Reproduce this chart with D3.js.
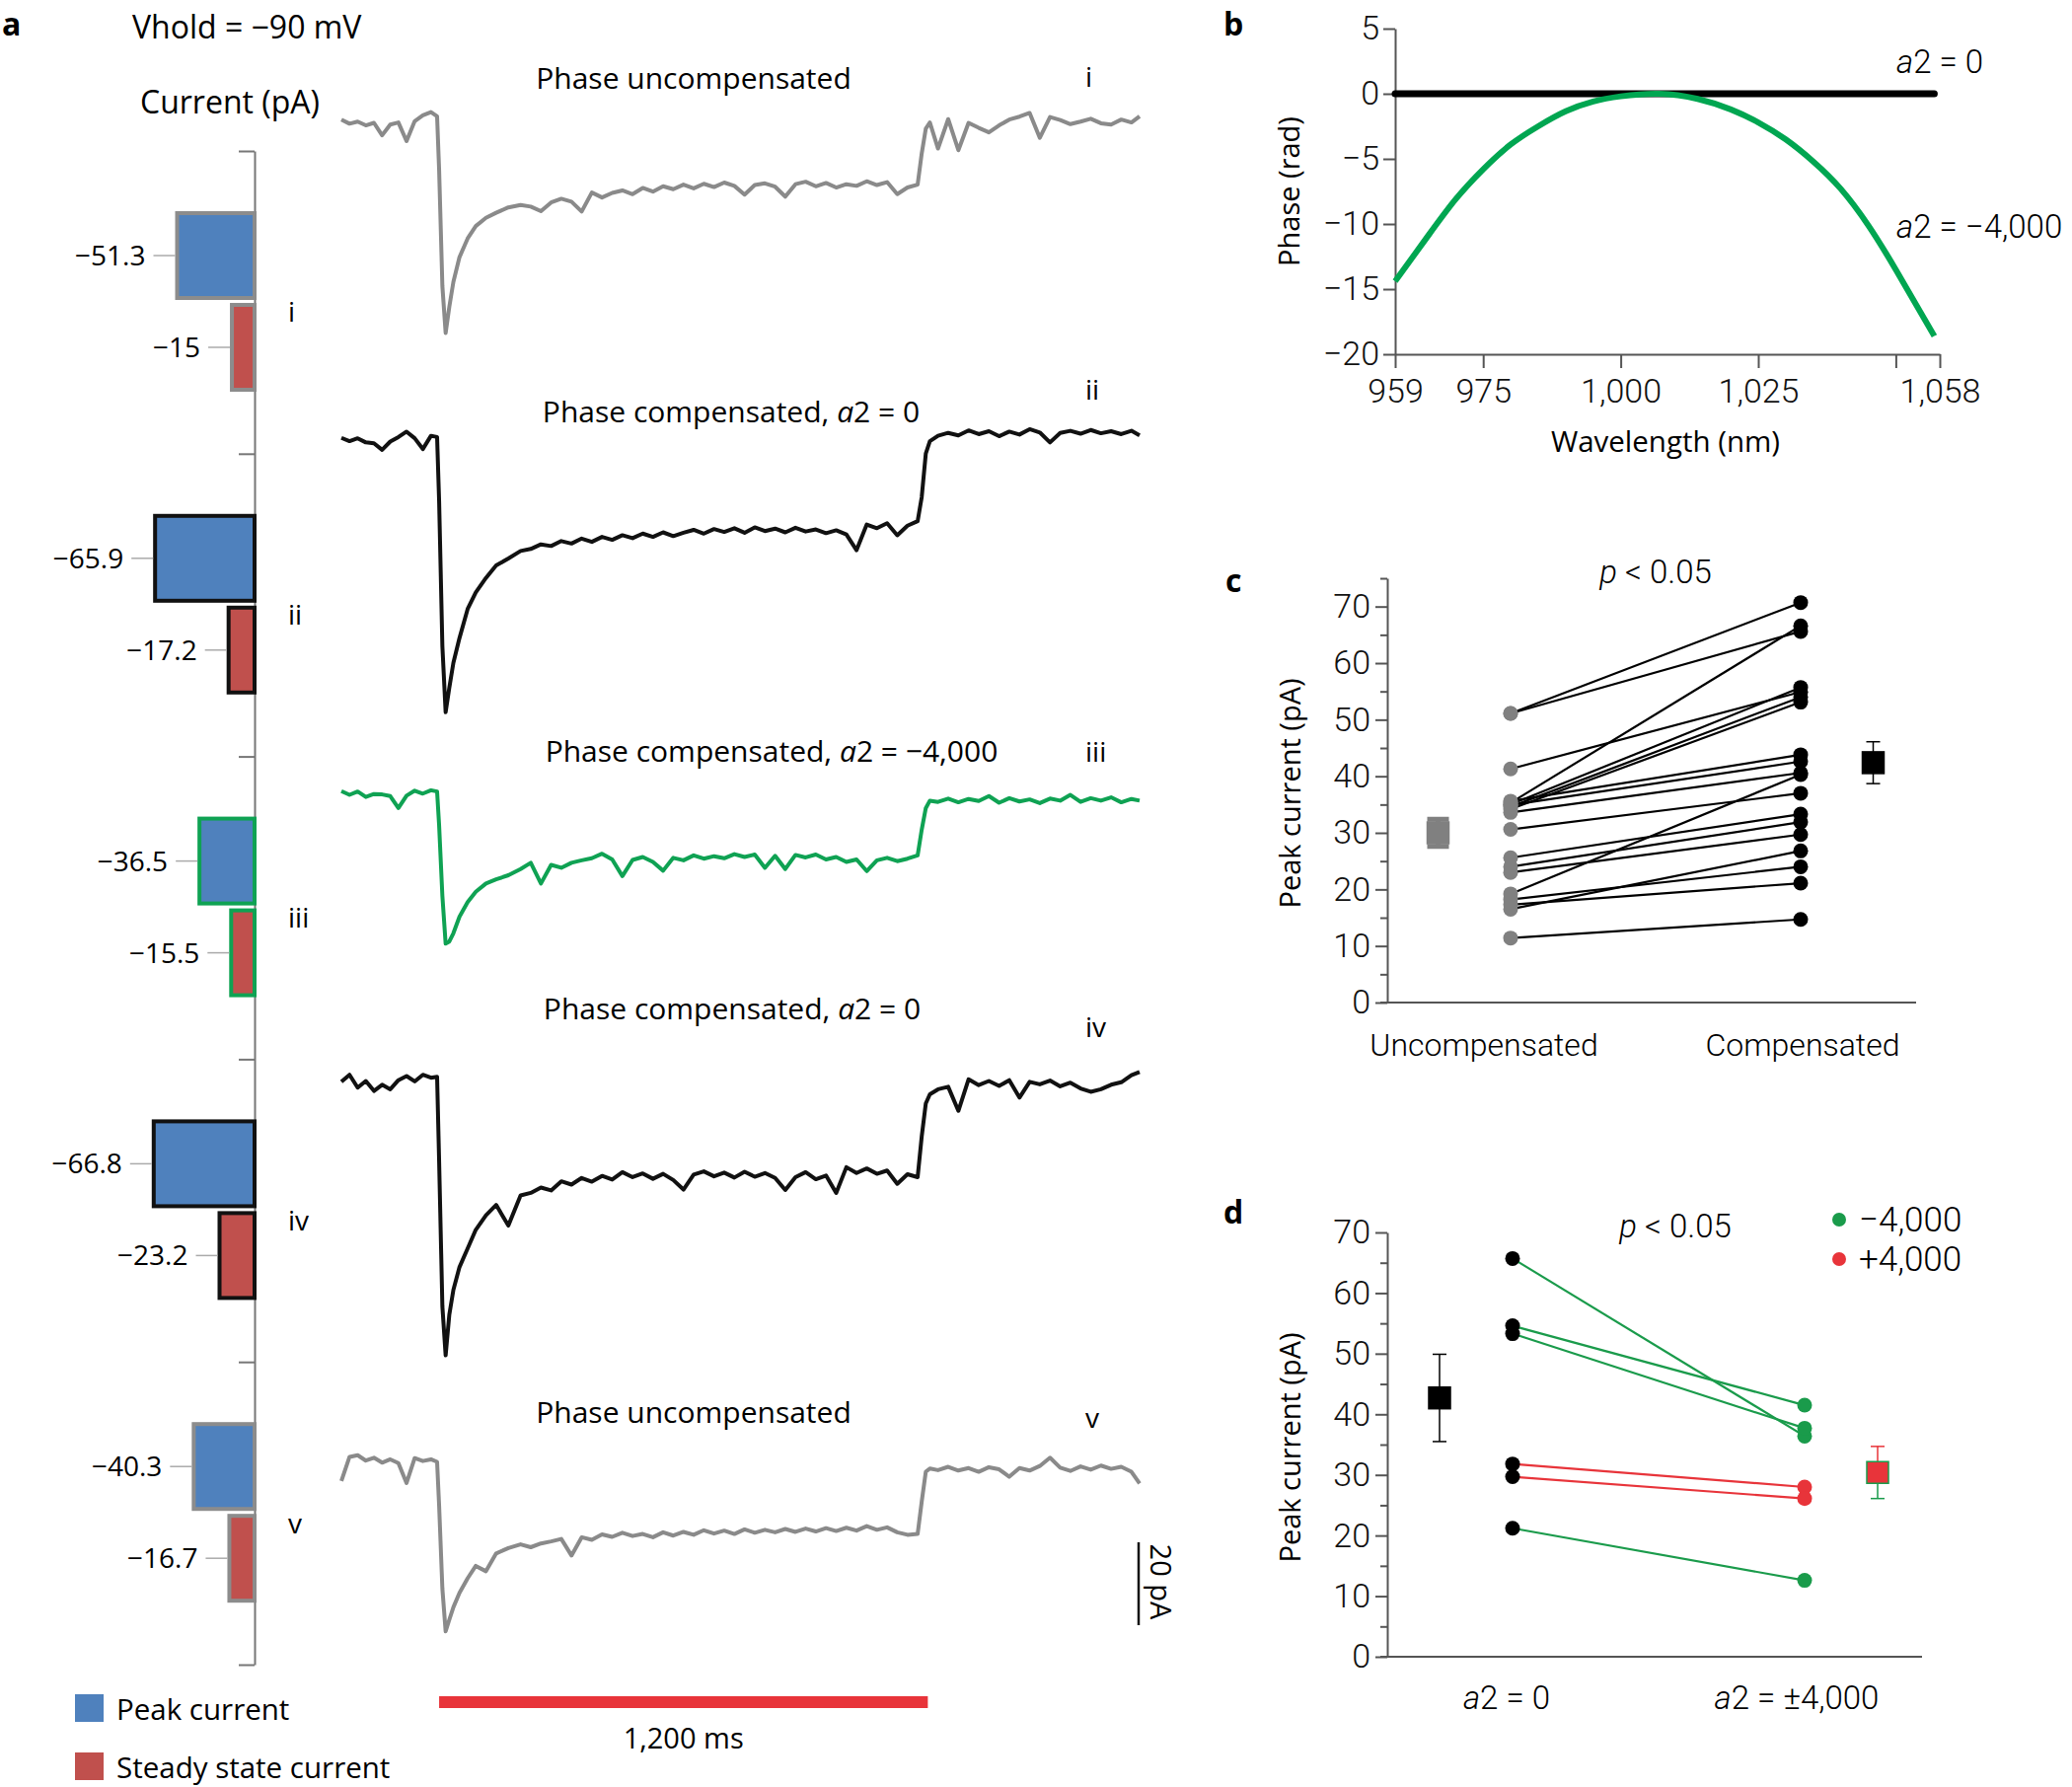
<!DOCTYPE html>
<html>
<head>
<meta charset="utf-8">
<script src="https://cdn.jsdelivr.net/npm/d3@7/dist/d3.min.js"></script>
<style>
  body { margin: 0; background: #fff; }
  svg { display: block; }
</style>
</head>
<body>
<svg id="fig" width="2100" height="1811"></svg>
<script>
// ---------- data ----------
// panel a, bar chart (pA)
const groups = ['i', 'ii', 'iii', 'iv', 'v']
const peakCurrent = [-51.3, -65.9, -36.5, -66.8, -40.3]
const steadyCurrent = [-15, -17.2, -15.5, -23.2, -16.7]
const traceTitles = ['Phase uncompensated', 'Phase compensated, a2 = 0', 'Phase compensated, a2 = −4,000',
  'Phase compensated, a2 = 0', 'Phase uncompensated']

// panel a, current traces (ms, pA relative to holding baseline)
const traceTimes = [-240, -220, -200, -180, -160, -140, -120, -100, -80, -60, -40, -20, -5,
  0, 8, 16, 25, 35, 50, 70, 90, 115, 140, 170, 200,
  225, 250, 275, 300, 325, 350, 375, 400, 425, 450, 475, 500, 525, 550, 575, 600, 625, 650, 675, 700,
  725, 750, 775, 800, 825, 850, 875, 900, 925, 950, 975, 1000, 1025, 1050, 1075, 1100, 1125, 1150, 1175,
  1185, 1195, 1205,
  1225, 1250, 1275, 1300, 1325, 1350, 1375, 1400, 1425, 1450, 1475, 1500, 1525, 1550, 1575, 1600, 1625,
  1650, 1675, 1700, 1720]
const traceI = [0.2, -0.8, -0.3, -1.2, -0.6, -3.6, -1.0, -0.5, -5.0, -0.2, 1.2, 2.0, 1.0,
  -12, -40, -51.3, -45, -39, -33, -28.5, -25.5, -23.5, -22.3, -21, -20.4,
  -20.8, -21.9, -19.8, -18.9, -19.6, -22.0, -17.4, -18.6, -17.5, -16.9, -17.8, -16.3, -17.2, -15.9, -16.6,
  -15.5, -16.4, -15.3, -16.1, -15.0, -15.8, -17.9, -15.6, -15.2, -16.0, -18.4, -15.4, -14.8, -15.9, -15.1,
  -16.2, -15.4, -15.8, -14.7, -15.6, -14.9, -17.8, -16.2, -15.5,
  -8, -2, -0.5,
  -6.8, 0.3, -7.2, -0.6, -1.8, -2.9, -1.2, 0.2, 0.9, 1.8, -4.2, 0.8, 0.1, -0.9, -0.3, 0.4, -0.7, -1.0, 0.2, -0.5, 1.0]
const traceII = [0.3, -0.5, 0.2, -0.8, -1.0, -2.6, -0.6, 0.5, 1.8, 0.2, -2.4, 0.8, 0.5,
  -15, -50, -65.9, -60, -54, -48, -41, -37, -33.5, -30.5, -28.8, -27.0,
  -26.5, -25.4, -25.8, -24.6, -25.2, -24.0, -24.8, -23.6, -24.3, -23.2, -23.9, -22.8, -23.6, -22.5, -23.4,
  -22.6, -21.9, -22.8, -21.7, -22.4, -21.5, -22.6, -21.3, -22.2, -21.6, -22.5, -21.4, -22.3, -21.8, -22.7,
  -22.0, -23.0, -26.8, -20.6, -21.5, -20.3, -23.2, -20.9, -19.8,
  -14, -3.5, -0.5,
  0.8, 1.5, 0.9, 2.1, 1.2, 1.9, 0.7, 1.8, 1.1, 2.4, 1.6, -0.8, 1.5, 2.0, 1.3, 2.2, 1.4, 1.9, 1.2, 2.0, 0.9]
const traceIII = [0.3, -0.6, 0.2, -1.1, -0.4, -0.5, -0.9, -3.8, -0.8, 0.4, -0.3, 0.5, 0.2,
  -8, -25, -36.5, -36.0, -34.0, -30.0, -26.5, -24.0, -22.0, -21.0, -20.0, -18.5,
  -17.0, -22.0, -17.5, -18.2, -17.0, -16.4, -15.9, -14.8, -16.2, -20.2, -16.3, -15.6, -16.8, -18.9, -15.8,
  -16.4, -15.2, -16.0, -15.4, -15.9, -14.9, -15.6, -15.0, -18.2, -15.3, -18.5, -15.1, -15.7, -15.0, -16.2,
  -15.6, -16.8, -16.2, -19.0, -16.4, -15.8, -16.6, -16.0, -15.2,
  -9, -3.8, -2.0,
  -2.3, -1.5, -2.4, -1.6, -2.1, -0.9, -2.5, -1.4, -2.2, -1.7, -2.6, -1.5, -2.0, -0.6, -2.3, -1.4, -2.0, -1.2, -2.4, -1.6, -2.0]
const traceIV = [-0.8, 0.9, -2.2, -0.6, -3.0, -1.5, -2.6, -0.4, 0.6, -0.7, 0.9, 0.2, 0.4,
  -20, -55, -66.8, -57, -51, -45.5, -41, -36.5, -33, -30.5, -35.5, -28.2,
  -27.6, -26.3, -27.0, -24.8, -25.6, -24.0, -24.9, -23.5, -24.4, -22.6, -23.8, -22.9, -24.2, -23.0, -24.5,
  -26.8, -23.2, -22.4, -23.6, -22.7, -23.9, -22.5, -23.7, -22.8, -24.0, -26.9, -23.8, -22.6, -24.3, -23.4,
  -27.6, -21.4, -22.8, -21.7, -23.0, -22.2, -25.4, -23.1, -23.8,
  -14, -6, -3.8,
  -2.6, -2.0, -7.8, -0.2, -1.6, -0.6, -1.8, -0.4, -4.6, -0.8, -1.4, -0.5, -1.9, -1.0, -2.4, -3.2, -2.6, -1.5, -0.9, 0.8, 1.6]
const traceV = [-4.0, 1.8, 2.2, 0.9, 1.6, 0.4, 1.2, 0.3, -4.5, 1.5, 0.8, 1.2, 0.6,
  -10, -30, -40.3, -37.5, -34.5, -31, -27.5, -24.5, -25.8, -21.5, -20.2, -19.3,
  -20.0, -19.1, -18.6, -18.0, -22.0, -17.6, -18.2, -16.9, -17.5, -16.5, -17.3, -16.8, -17.6, -16.4, -17.2,
  -16.3, -17.0, -15.9, -16.7, -16.0, -16.8, -15.7, -16.5, -15.8, -16.4, -15.6, -16.3, -15.5, -16.2, -15.4,
  -16.1, -15.3, -16.0, -14.9, -15.8, -15.2, -16.4, -17.0, -16.8,
  -9, -1.8, -1.0,
  -1.4, -0.6, -1.5, -0.9, -1.8, -0.7, -1.2, -3.0, -0.9, -1.5, -0.4, 1.6, -0.8, -1.6, -0.5, -1.3, -0.3, -1.1, -0.6, -1.8, -4.6]

// panel b, phase (rad) vs wavelength (nm)
const flatWavelength = [959, 1057]
const flatPhase = [0, 0]
const wavelengthNm = [959, 965, 970, 975, 980, 985, 990, 995, 1000, 1007, 1014, 1020, 1025, 1030, 1035, 1040, 1045, 1050, 1057]
const phaseA2Neg = [-14.4, -10.9, -8.1, -5.8, -3.9, -2.5, -1.35, -0.6, -0.2, 0, -0.4, -1.2, -2.2, -3.5, -5.2, -7.3, -10.1, -13.5, -18.6]
const phaseYTicks = [5, 0, -5, -10, -15, -20]
const wavelengthTicks = [959, 975, 1000, 1025, 1050, 1058]

// panel c, paired peak currents (pA)
const uncompensated = [51.1, 51.1, 41.3, 35.3, 35.0, 34.6, 34.2, 35.6, 34.9, 33.6, 30.6, 25.6, 24.0, 23.0, 19.2, 18.2, 17.3, 16.5, 11.4]
const compensated = [70.7, 65.6, 54.9, 66.6, 55.7, 54.0, 53.1, 43.8, 42.6, 40.6, 37.0, 33.3, 31.9, 29.7, 40.3, 24.0, 21.1, 26.8, 14.7]
const meanC = [30.0, 42.4]
const semC = [2.4, 3.7]

// panel d, paired peak currents (pA)
const a2Zero = [65.7, 54.6, 53.3, 31.8, 29.7, 21.2]
const a2PlusMinus = [36.4, 41.5, 37.7, 28.0, 26.1, 12.6]
const a2Sign = ['−4,000', '−4,000', '−4,000', '+4,000', '+4,000', '−4,000']
const meanD = [42.7, 30.4]
const semD = [7.2, 4.3]

// ---------- drawing ----------
const svg = d3.select('#fig')
const fontA = "'Open Sans', 'Noto Sans', sans-serif"
const fontB = "Roboto, 'Open Sans', sans-serif"
const minus = v => String(v).replace('-', '−')

const GREEN = '#0fa253'
const RED = '#e8343a'
const GREY = '#8a8a8a'

// panel letters
const letters = [['a', 2, 36], ['b', 1240, 36], ['c', 1242, 600], ['d', 1240, 1240]]
letters.forEach(([t, x, y]) => {
  svg.append('text').attr('x', x).attr('y', y).text(t)
    .style('font-family', fontA).style('font-weight', 700).style('font-size', '32px')
})

// ===== Panel a =====
svg.append('text').attr('x', 134).attr('y', 39).text('Vhold = −90 mV')
  .style('font-family', fontA).style('font-size', '32px')
svg.append('text').attr('x', 142).attr('y', 115).text('Current (pA)')
  .style('font-family', fontA).style('font-size', '32px')

const yGroup = d3.scaleBand().domain(groups).range([153, 1687])
const yKind = d3.scaleBand().domain(['peak', 'steady']).range([63, 242]).paddingInner(0.075)
const xBar = d3.scaleLinear().domain([0, 70]).range([258, 258 - 70 * 1.53])
const idxScale = d3.scaleLinear().domain([0, groups.length]).range([153, 1687])
const outline = ['#8c8c8c', '#111', GREEN, '#111', '#8c8c8c']

svg.append('g')
  .attr('transform', 'translate(258,0)')
  .call(d3.axisLeft(idxScale).tickValues(d3.range(groups.length + 1)).tickFormat('').tickSizeInner(16).tickSizeOuter(0))
  .call(g => g.selectAll('line,path').attr('stroke', '#777').attr('stroke-width', 2))

const barRows = []
groups.forEach((g, i) => {
  barRows.push({ g, i, kind: 'peak', v: peakCurrent[i] })
  barRows.push({ g, i, kind: 'steady', v: steadyCurrent[i] })
})

const barG = svg.append('g')
barG.selectAll('rect')
  .data(barRows)
  .join('rect')
  .attr('x', d => xBar(-d.v))
  .attr('y', d => yGroup(d.g) + yKind(d.kind))
  .attr('width', d => 258 - xBar(-d.v))
  .attr('height', yKind.bandwidth())
  .attr('fill', d => d.kind === 'peak' ? '#4f81bd' : '#c0504d')
  .attr('stroke', d => outline[d.i])
  .attr('stroke-width', 4)

barG.selectAll('line.leader')
  .data(barRows)
  .join('line')
  .attr('class', 'leader')
  .attr('x1', d => xBar(-d.v) - 24)
  .attr('x2', d => xBar(-d.v) - 2)
  .attr('y1', d => yGroup(d.g) + yKind(d.kind) + yKind.bandwidth() / 2)
  .attr('y2', d => yGroup(d.g) + yKind(d.kind) + yKind.bandwidth() / 2)
  .attr('stroke', '#aaa')
  .attr('stroke-width', 1.5)

barG.selectAll('text.val')
  .data(barRows)
  .join('text')
  .attr('class', 'val')
  .attr('x', d => xBar(-d.v) - 32)
  .attr('y', d => yGroup(d.g) + yKind(d.kind) + yKind.bandwidth() / 2 + 10)
  .attr('text-anchor', 'end')
  .style('font-family', fontA).style('font-size', '28px')
  .text(d => minus(d.v))

barG.selectAll('text.num')
  .data(groups)
  .join('text')
  .attr('class', 'num')
  .attr('x', 292)
  .attr('y', d => yGroup(d) + yGroup.bandwidth() / 2 + 20)
  .style('font-family', fontA).style('font-size', '28px')
  .text(d => d)

// legend
const legendA = [['Peak current', '#4f81bd', 1717], ['Steady state current', '#c0504d', 1776]]
legendA.forEach(([t, c, y]) => {
  svg.append('rect').attr('x', 76).attr('y', y).attr('width', 29).attr('height', 28).attr('fill', c)
  svg.append('text').attr('x', 118).attr('y', y + 26).text(t)
    .style('font-family', fontA).style('font-size', '29.5px')
})

// traces
const xTime = d3.scaleLinear().domain([-240, 1720]).range([346, 1155])
const yCur = d3.scaleLinear().domain([0, -20]).range([0, 84])
const traces = [traceI, traceII, traceIII, traceIV, traceV]
const traceColor = [GREY, '#111', GREEN, '#111', GREY]
const traceBase = [122, 445, 803, 1093, 1484]
const titlePos = [[703, 90], [741, 428], [782, 772], [742, 1033], [703, 1442]]
const numPos = [[1100, 88], [1100, 405], [1100, 772], [1100, 1051], [1100, 1447]]

const line = d3.line().x((d, j) => xTime(traceTimes[j])).y(d => yCur(d))
traces.forEach((tr, i) => {
  svg.append('path')
    .datum(tr)
    .attr('transform', `translate(0,${traceBase[i]})`)
    .attr('d', line)
    .attr('fill', 'none')
    .attr('stroke', traceColor[i])
    .attr('stroke-width', 4)
    .attr('stroke-linejoin', 'round')

  const t = svg.append('text').attr('x', titlePos[i][0]).attr('y', titlePos[i][1])
    .attr('text-anchor', 'middle').style('font-family', fontA).style('font-size', '30px')
  const parts = traceTitles[i].split('a2')
  if (parts.length > 1) {
    t.append('tspan').text(parts[0])
    t.append('tspan').style('font-style', 'italic').text('a')
    t.append('tspan').text('2' + parts[1])
  } else {
    t.text(traceTitles[i])
  }
  svg.append('text').attr('x', numPos[i][0]).attr('y', numPos[i][1])
    .style('font-family', fontA).style('font-size', '28px').text(groups[i])
})

// scale bars
svg.append('line')
  .attr('x1', 1154).attr('x2', 1154)
  .attr('y1', 1563).attr('y2', 1563 + yCur(-20))
  .attr('stroke', '#111').attr('stroke-width', 2.5)
svg.append('text').attr('transform', 'translate(1166,1603) rotate(90)')
  .attr('text-anchor', 'middle').style('font-family', fontA).style('font-size', '29px').text('20 pA')
svg.append('rect')
  .attr('x', xTime(0)).attr('y', 1719)
  .attr('width', xTime(1200) - xTime(0)).attr('height', 12)
  .attr('fill', RED)
svg.append('text').attr('x', (xTime(0) + xTime(1200)) / 2).attr('y', 1772)
  .attr('text-anchor', 'middle').style('font-family', fontA).style('font-size', '29px').text('1,200 ms')

// ===== Panel b =====
const xW = d3.scaleLinear().domain([959, 1058]).range([1414, 1966])
const yP = d3.scaleLinear().domain([-20, 5]).range([359, 29])

const styleAxis = g => {
  g.selectAll('line,path').attr('stroke', '#555').attr('stroke-width', 2)
  g.selectAll('text').style('font-family', fontB).style('font-weight', 300).style('font-size', '34px').attr('fill', '#111')
}

svg.append('g').attr('transform', 'translate(1414,0)')
  .call(d3.axisLeft(yP).tickValues(phaseYTicks).tickFormat(minus).tickSizeInner(12).tickSizeOuter(0).tickPadding(4))
  .call(styleAxis)
svg.append('g').attr('transform', 'translate(0,359)')
  .call(d3.axisBottom(xW).tickValues(wavelengthTicks)
    .tickFormat(d => d === 1050 ? '' : d3.format(',')(d)).tickSizeInner(14).tickSizeOuter(0).tickPadding(11))
  .call(styleAxis)

svg.append('path')
  .datum(flatWavelength.map((w, j) => [w, flatPhase[j]]))
  .attr('d', d3.line().x(d => xW(d[0])).y(d => yP(d[1])))
  .attr('stroke', '#000').attr('stroke-width', 7).attr('stroke-linecap', 'round').attr('fill', 'none')
svg.append('path')
  .datum(wavelengthNm.map((w, j) => [w, phaseA2Neg[j]]))
  .attr('d', d3.line().curve(d3.curveNatural).x(d => xW(d[0])).y(d => yP(d[1])))
  .attr('stroke', '#00a651').attr('stroke-width', 6).attr('fill', 'none')

const italicLabel = (x, y, pre, rest, anchor, size) => {
  const t = svg.append('text').attr('x', x).attr('y', y).attr('text-anchor', anchor || 'start')
    .style('font-family', fontB).style('font-weight', 300).style('font-size', (size || 33) + 'px')
  t.append('tspan').style('font-style', 'italic').text(pre)
  t.append('tspan').text(rest)
  return t
}
italicLabel(1922, 74, 'a', '2 = 0')
italicLabel(1922, 241, 'a', '2 = −4,000')

svg.append('text').attr('transform', 'translate(1317,194) rotate(-90)').attr('text-anchor', 'middle')
  .style('font-family', fontA).style('font-size', '29px').text('Phase (rad)')
svg.append('text').attr('x', 1688).attr('y', 458).attr('text-anchor', 'middle')
  .style('font-family', fontA).style('font-size', '29.5px').text('Wavelength (nm)')

// ===== Panels c and d (paired plots) =====
function pairedPanel(opt) {
  const y = d3.scaleLinear().domain([0, opt.yMax]).range([opt.y0, opt.y0 - opt.yMax * opt.pxPerUnit])
  const x = d3.scaleLinear().domain([0, 1]).range(opt.xRange)

  svg.append('g').attr('transform', 'translate(1406,0)')
    .call(d3.axisLeft(y).tickValues(d3.range(0, 71, 10)).tickSizeInner(12).tickSizeOuter(0).tickPadding(5))
    .call(styleAxis)
  svg.append('g').attr('transform', 'translate(1406,0)')
    .call(d3.axisLeft(y).tickValues(d3.range(5, opt.yMax + 1, 10)).tickFormat('').tickSizeInner(7).tickSizeOuter(0))
    .call(g => g.select('.domain').remove())
    .call(g => g.selectAll('line').attr('stroke', '#555').attr('stroke-width', 2))
  svg.append('line').attr('x1', 1399).attr('x2', opt.xEnd).attr('y1', opt.y0).attr('y2', opt.y0)
    .attr('stroke', '#555').attr('stroke-width', 2)

  // paired lines
  svg.append('g').selectAll('line')
    .data(opt.left.map((v, j) => ({ a: v, b: opt.right[j], j })))
    .join('line')
    .attr('x1', x(0)).attr('x2', x(1))
    .attr('y1', d => y(d.a)).attr('y2', d => y(d.b))
    .attr('stroke', d => opt.lineColor(d.j)).attr('stroke-width', 2.2)

  svg.append('g').selectAll('circle')
    .data(opt.left).join('circle')
    .attr('cx', x(0)).attr('cy', d => y(d)).attr('r', 7.5).attr('fill', opt.leftColor)
  svg.append('g').selectAll('circle')
    .data(opt.right).join('circle')
    .attr('cx', x(1)).attr('cy', d => y(d)).attr('r', 7.5).attr('fill', (d, j) => opt.rightColor(j))

  // means with sem
  opt.means.forEach((m, k) => {
    const cx = x(k === 0 ? -0.25 : 1.25)
    const s = opt.sems[k]
    const g = svg.append('g')
    const colTop = opt.errColor[k][0], colBot = opt.errColor[k][1]
    g.append('line').attr('x1', cx).attr('x2', cx).attr('y1', y(m)).attr('y2', y(m + s)).attr('stroke', colTop).attr('stroke-width', opt.errWidth[k])
    g.append('line').attr('x1', cx).attr('x2', cx).attr('y1', y(m)).attr('y2', y(m - s)).attr('stroke', colBot).attr('stroke-width', opt.errWidth[k])
    g.append('line').attr('x1', cx - opt.cap[k]).attr('x2', cx + opt.cap[k]).attr('y1', y(m + s)).attr('y2', y(m + s)).attr('stroke', colTop).attr('stroke-width', opt.errWidth[k])
    g.append('line').attr('x1', cx - opt.cap[k]).attr('x2', cx + opt.cap[k]).attr('y1', y(m - s)).attr('y2', y(m - s)).attr('stroke', colBot).attr('stroke-width', opt.errWidth[k])
    g.append('rect').attr('x', cx - 11).attr('y', y(m) - 11).attr('width', 22).attr('height', 22)
      .attr('fill', opt.meanFill[k]).attr('stroke', opt.meanStroke[k]).attr('stroke-width', 1.5)
  })

  svg.append('text').attr('transform', `translate(1318,${opt.titleY}) rotate(-90)`).attr('text-anchor', 'middle')
    .style('font-family', fontA).style('font-size', '29px').text('Peak current (pA)')

  italicLabel(opt.pX, opt.pY, 'p', ' < 0.05', 'middle')
  return { x, y }
}

pairedPanel({
  yMax: 75, y0: 1016, pxPerUnit: 5.733, xRange: [1531, 1825], xEnd: 1942,
  left: uncompensated, right: compensated,
  lineColor: () => '#000', leftColor: '#808080', rightColor: () => '#000',
  means: meanC, sems: semC,
  errColor: [['#808080', '#808080'], ['#000', '#000']], errWidth: [5, 1.5], cap: [11, 7],
  meanFill: ['#808080', '#000'], meanStroke: ['#808080', '#000'],
  titleY: 804, pX: 1678, pY: 591
})
svg.append('text').attr('x', 1504).attr('y', 1070).attr('text-anchor', 'middle')
  .style('font-family', fontB).style('font-weight', 300).style('font-size', '32px').text('Uncompensated')
svg.append('text').attr('x', 1827).attr('y', 1070).attr('text-anchor', 'middle')
  .style('font-family', fontB).style('font-weight', 300).style('font-size', '32px').text('Compensated')

const signColor = s => s.startsWith('+') ? RED : '#1a9b4b'
pairedPanel({
  yMax: 70, y0: 1679, pxPerUnit: 6.143, xRange: [1533, 1829], xEnd: 1948,
  left: a2Zero, right: a2PlusMinus,
  lineColor: j => signColor(a2Sign[j]), leftColor: '#000', rightColor: j => signColor(a2Sign[j]),
  means: meanD, sems: semD,
  errColor: [['#000', '#000'], [RED, '#1a9b4b']], errWidth: [1.5, 1.5], cap: [7, 7],
  meanFill: ['#000', RED], meanStroke: ['#000', '#1a9b4b'],
  titleY: 1467, pX: 1698, pY: 1254
})
italicLabel(1527, 1732, 'a', '2 = 0', 'middle')
italicLabel(1821, 1732, 'a', '2 = ±4,000', 'middle')

// legend d
const legendD = [['−4,000', '#1a9b4b', 1236], ['+4,000', RED, 1276]]
legendD.forEach(([t, c, y]) => {
  svg.append('circle').attr('cx', 1864).attr('cy', y).attr('r', 7).attr('fill', c)
  svg.append('text').attr('x', 1884).attr('y', y + 12).text(t)
    .style('font-family', fontB).style('font-weight', 300).style('font-size', '35px')
})
</script>
</body>
</html>
